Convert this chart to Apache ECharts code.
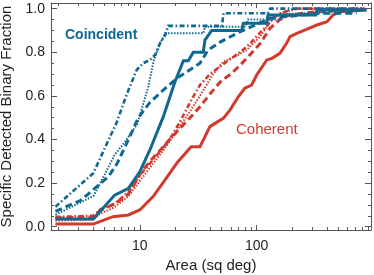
<!DOCTYPE html>
<html>
<head>
<meta charset="utf-8">
<script src="https://cdn.jsdelivr.net/npm/echarts@6/dist/echarts.min.js"></script>
<style>html,body{margin:0;padding:0;background:#fff;}#c{width:374px;height:275px;}</style>
</head>
<body>
<div id="c"></div>
<script>
// ---- data (area in sq deg, cumulative detected fraction) ----
const coincidentSolid = [[1.9,0.035],[4.0,0.035],[6.1,0.145],[8.0,0.176],[10,0.252],[12.2,0.352],[15.9,0.505],[20.0,0.665],[23.6,0.761],[26.0,0.761],[28.7,0.80],[34.9,0.80],[36.1,0.856],[41.2,0.90],[74.5,0.90],[76.8,0.933],[122,0.933],[125,0.971],[321,0.971],[328,0.995],[870,0.995]];
const coincidentDashed = [[1.9,0.07],[2.3,0.09],[3.1,0.12],[4.0,0.17],[5.4,0.23],[6.4,0.29],[8.0,0.40],[9.7,0.50],[12.2,0.57],[15.9,0.627],[20.7,0.68],[26.9,0.72],[32.7,0.75],[38.3,0.81],[49.5,0.849],[72,0.894],[130,0.956],[348,0.979],[720,0.979]];
const coincidentDotted = [[1.9,0.055],[4.0,0.14],[4.6,0.20],[6.1,0.33],[7.5,0.39],[9.5,0.47],[11.8,0.64],[13.2,0.765],[14.9,0.84],[16.5,0.887],[35,0.887],[36,0.917],[80,0.917],[84,0.95],[158,0.95],[165,0.975],[800,0.99]];
const coincidentDashDot = [[1.9,0.092],[4.0,0.245],[5.4,0.398],[6.3,0.474],[7.7,0.604],[9.4,0.719],[10.7,0.75],[12.2,0.765],[13.5,0.788],[14.9,0.841],[16.5,0.879],[17.5,0.921],[50.5,0.921],[52,0.979],[125,0.979],[130,1.0],[800,1.0]];
const coherentSolid = [[1.9,0.012],[4.0,0.012],[5.9,0.046],[8.0,0.054],[10,0.077],[13,0.138],[16.4,0.214],[20.7,0.291],[25.2,0.344],[27.5,0.367],[32.7,0.367],[35,0.398],[39.8,0.459],[44,0.474],[51.8,0.497],[59,0.535],[69.6,0.596],[79,0.635],[90.5,0.65],[100,0.696],[122,0.765],[135,0.772],[158,0.795],[180,0.841],[193,0.872],[220,0.887],[267,0.905],[327,0.925],[400,0.94],[450,0.971],[516,0.986],[870,0.994]];
const coherentDashed = [[1.9,0.04],[4.0,0.045],[4.6,0.075],[6.1,0.105],[8.0,0.15],[10,0.24],[12.2,0.30],[14.9,0.35],[18,0.40],[22,0.45],[26.9,0.50],[32.7,0.55],[40,0.61],[50,0.67],[60,0.70],[72,0.74],[88,0.79],[107,0.84],[130,0.91],[158,0.95],[190,0.97],[260,0.98],[400,0.99],[600,0.99],[850,1.0]];
const coherentDotted = [[1.9,0.028],[4.0,0.032],[4.6,0.06],[6.1,0.09],[8.0,0.14],[10,0.21],[12.2,0.27],[14.9,0.33],[18,0.39],[22,0.46],[26.9,0.53],[32.7,0.60],[42.4,0.70],[51.8,0.757],[65,0.78],[82,0.81],[107,0.872],[130,0.94],[158,0.979],[219,1.0],[800,1.0]];
const coherentDashDot = [[1.9,0.045],[4.0,0.05],[4.6,0.08],[6.1,0.105],[8.0,0.16],[10,0.235],[12.2,0.29],[14.9,0.345],[18,0.40],[22,0.48],[26.9,0.57],[32.7,0.65],[40,0.70],[50,0.74],[60,0.77],[72,0.80],[88,0.84],[107,0.89],[122,0.92],[140,0.96],[170,0.985],[220,1.0],[800,1.0]];

const xMajorTicks = [10, 100];
const xMinorTicks = [2,3,4,5,6,7,8,9,20,30,40,50,60,70,80,90,200,300,400,500,600,700,800,900];
const yMajorTicks = [0, 0.2, 0.4, 0.6, 0.8, 1.0];
const yMinorTicks = [0.05,0.1,0.15,0.25,0.3,0.35,0.45,0.5,0.55,0.65,0.7,0.75,0.85,0.9,0.95];

const xTitle = 'Area (sq deg)';
const yTitle = 'Specific Detected Binary Fraction';
const labelCoincident = 'Coincident';
const labelCoherent = 'Coherent';

// ---- styling ----
const BLUE = '#0f6890';
const RED = '#d13b2f';
const FONT = '"Liberation Sans", Arial, Helvetica, sans-serif';
const AX = '#555';
const xMin = 1.74, xMax = 950, yMin = -0.015, yMax = 1.026;

function xAx(pos, ticks, len, major) {
  return {
    type: 'log', logBase: 10, min: xMin, max: xMax, position: pos,
    axisLine: {show: major, onZero: false, lineStyle: {color: AX, width: 1}},
    axisTick: {show: true, inside: true, length: len, customValues: ticks, lineStyle: {color: AX, width: 1}},
    axisLabel: (major && pos === 'bottom') ? {show: true, customValues: ticks, fontSize: 14, color: '#222', fontFamily: FONT, margin: 9, formatter: v => String(Math.round(v))} : {show: false},
    splitLine: {show: false}, minorTick: {show: false},
    name: (major && pos === 'bottom') ? xTitle : '',
    nameLocation: 'middle', nameGap: 27,
    nameTextStyle: {fontSize: 15, color: '#222', fontFamily: FONT}
  };
}
function yAx(pos, ticks, len, major) {
  return {
    type: 'value', min: yMin, max: yMax, position: pos,
    axisLine: {show: major, onZero: false, lineStyle: {color: AX, width: 1}},
    axisTick: {show: true, inside: true, length: len, customValues: ticks, lineStyle: {color: AX, width: 1}},
    axisLabel: (major && pos === 'left') ? {show: true, customValues: ticks, fontSize: 14, color: '#222', fontFamily: FONT, margin: 6, formatter: v => v.toFixed(1)} : {show: false},
    splitLine: {show: false},
    name: (major && pos === 'left') ? yTitle : '',
    nameLocation: 'middle', nameGap: 35,
    nameTextStyle: {fontSize: 15, color: '#222', fontFamily: FONT}
  };
}
function ser(data, color, type, width, z) {
  return {type: 'line', data: data, xAxisIndex: 0, yAxisIndex: 0, showSymbol: false, symbol: 'none',
    lineStyle: {color: color, type: type, width: width, cap: 'butt', join: 'miter'}, z: z, silent: true, animation: false};
}

const chart = echarts.init(document.getElementById('c'), null, {renderer: 'canvas'});
chart.setOption({
  animation: false,
  backgroundColor: '#fff',
  grid: {left: 51, right: 3, top: 3, bottom: 45, containLabel: false, outerBoundsMode: 'none'},
  xAxis: [xAx('bottom', xMajorTicks, 5, true), xAx('bottom', xMinorTicks, 3, false), xAx('top', xMajorTicks, 5, true), xAx('top', xMinorTicks, 3, false)],
  yAxis: [yAx('left', yMajorTicks, 6, true), yAx('left', yMinorTicks, 3, false), yAx('right', yMajorTicks, 6, true), yAx('right', yMinorTicks, 3, false)],
  series: [
    ser(coherentDotted, RED, [1.5, 1.5], 2, 2),
    ser(coherentDashDot, RED, [5, 2.5, 1.5, 2.5], 2.6, 2),
    ser(coherentDashed, RED, [7, 4], 3, 2),
    ser(coherentSolid, RED, 'solid', 3, 3),
    ser(coincidentDotted, BLUE, [1.5, 1.5], 2, 4),
    ser(coincidentDashDot, BLUE, [5, 2.5, 1.5, 2.5], 2.6, 4),
    ser(coincidentDashed, BLUE, [7, 4], 3, 4),
    ser(coincidentSolid, BLUE, 'solid', 3, 5)
  ],
  graphic: [
    {type: 'text', left: 65, top: 28, z: 10, style: {text: labelCoincident, font: 'bold 14px ' + FONT, fill: BLUE}},
    {type: 'text', left: 236, top: 122, z: 10, style: {text: labelCoherent, font: '15px ' + FONT, fill: RED}}
  ]
});
</script>
</body>
</html>
